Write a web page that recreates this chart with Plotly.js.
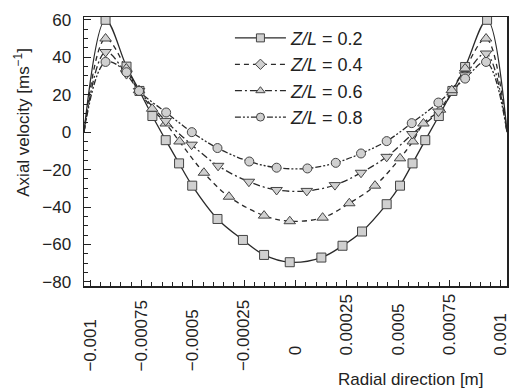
<!DOCTYPE html>
<html><head><meta charset="utf-8">
<script src="https://cdn.plot.ly/plotly-3.0.1.min.js"></script>
<style>html,body{margin:0;padding:0;background:#fff}#chart{width:511px;height:389px}</style>
</head><body><div id="chart"></div>
<script>
// ---- data ----
const seriesNames = ['<i>Z/L</i> = 0.2', '<i>Z/L</i> = 0.4', '<i>Z/L</i> = 0.6', '<i>Z/L</i> = 0.8'];
const wallX = [-0.00103, 0.00103];
const wallY = [0, 0];

const x02 = [-0.000925,-0.000823,-0.00076,-0.000697,-0.000632,-0.000567,-0.000503,-0.00038,-0.000256,-0.000153,-0.000028,0.000126,0.000229,0.000324,0.000444,0.000509,0.00057,0.000632,0.000698,0.000764,0.000826,0.000933];
const y02 = [60,35,22,8.6,-4.3,-16.7,-28.6,-46.4,-57.6,-65.6,-69.5,-67,-60.7,-53.1,-38.5,-28.6,-16.7,-4.3,8.6,22,34.8,60];

const x04 = [-0.000925,-0.000824,-0.000762,-0.000698,-0.000632,-0.000565,-0.000446,-0.000324,-0.000153,-0.000028,0.000132,0.000262,0.000387,0.000509,0.000571,0.000623,0.000704,0.000761,0.000826,0.000928];
const y04 = [50,34,22.4,12.5,4.6,-5,-21.7,-34.5,-44.6,-47.6,-45.7,-38,-28.6,-14,-5,4.6,12,22.4,34,50];

const x06 = [-0.000925,-0.000823,-0.000762,-0.000632,-0.000506,-0.000377,-0.000227,-0.000092,0.000055,0.000192,0.000319,0.000444,0.000569,0.000696,0.000826,0.000928];
const y06 = [42.8,31,22,6,-6.7,-18,-26.5,-30.9,-31.4,-28.3,-21.7,-13.2,-1,11,30.4,42];

const x08 = [-0.000925,-0.000823,-0.000762,-0.00063,-0.000505,-0.00038,-0.000225,-0.000092,0.000058,0.000196,0.000319,0.000444,0.000566,0.000696,0.000826,0.000928];
const y08 = [37.5,32,22,10.5,0,-8.5,-15.7,-19,-19.4,-16.4,-11.4,-4.8,4.8,15.8,28.6,37.5];

const xTickVals = [-0.001,-0.00075,-0.0005,-0.00025,0,0.00025,0.0005,0.00075,0.001];
const xTickText = ['\u22120.001','\u22120.00075','\u22120.0005','\u22120.00025','0','0.00025','0.0005','0.00075','0.001'];

// ---- styles ----
const FONT = 'Liberation Sans, Arial, sans-serif';
const INK = '#222';
const seriesX = [x02, x04, x06, x08];
const seriesY = [y02, y04, y06, y08];
const dashes = ['solid', '5px,4px', '7px,3px,2px,3px', '6px,2px,2px,2px,2px,2px'];
const plotSymbols = ['square', 'triangle-up', 'triangle-down', 'circle'];
const legendSymbols = ['square', 'diamond', 'triangle-up', 'circle'];
const sizes = [9, 10, 10, 9];

const traces = [];
for (let i = 0; i < 4; i++) {
  traces.push({
    x: [wallX[0], ...seriesX[i], wallX[1]],
    y: [wallY[0], ...seriesY[i], wallY[1]],
    mode: 'lines', type: 'scatter', showlegend: false, hoverinfo: 'skip',
    line: {color: '#2a2a2a', width: 1.3, dash: dashes[i], shape: 'spline', smoothing: 1},
    cliponaxis: true
  });
}
for (let i = 0; i < 4; i++) {
  traces.push({
    x: seriesX[i], y: seriesY[i],
    mode: 'markers', type: 'scatter', showlegend: false,
    marker: {symbol: plotSymbols[i], size: sizes[i], color: '#d0d0d0', line: {color: '#444', width: 1}},
    cliponaxis: true
  });
}
for (let i = 0; i < 4; i++) {
  traces.push({
    x: [null], y: [null], name: seriesNames[i],
    mode: 'lines+markers', type: 'scatter',
    line: {color: '#2a2a2a', width: 1.3, dash: dashes[i]},
    marker: {symbol: legendSymbols[i], size: 8, color: '#d0d0d0', line: {color: '#444', width: 1}}
  });
}

const annotations = [];
xTickVals.forEach((v, i) => {
  const neg = xTickText[i].startsWith('\u2212');
  annotations.push({
    x: v, xref: 'x', y: neg ? -0.325 : -0.265, yref: 'paper',
    text: xTickText[i], textangle: -90, showarrow: false,
    xanchor: 'center', yanchor: 'bottom',
    font: {family: FONT, size: 17, color: INK}
  });
});
annotations.push({
  x: -0.147, xref: 'paper', y: 0.61, yref: 'paper',
  text: 'Axial velocity [ms<sup>\u22121</sup>]', textangle: -90, showarrow: false,
  xanchor: 'center', yanchor: 'middle',
  font: {family: FONT, size: 17, color: INK}
});
annotations.push({
  x: 0.773, xref: 'paper', y: -0.349, yref: 'paper',
  text: 'Radial direction [m]', showarrow: false,
  xanchor: 'center', yanchor: 'middle',
  font: {family: FONT, size: 17, color: INK}
});

const layout = {
  width: 511, height: 389,
  margin: {l: 84, r: 4, t: 17, b: 103},
  paper_bgcolor: '#fff', plot_bgcolor: '#fff',
  font: {family: FONT, size: 17, color: INK},
  showlegend: true,
  legend: {x: 0.345, y: 0.99, xanchor: 'left', yanchor: 'top', bgcolor: 'rgba(0,0,0,0)',
           font: {family: FONT, size: 18, color: INK}, itemwidth: 51},
  xaxis: {
    range: [-0.00103, 0.00103], tickmode: 'linear', tick0: 0, dtick: 0.00025,
    ticks: 'inside', ticklen: 6, tickcolor: INK, tickwidth: 1,
    showticklabels: false, showgrid: false, zeroline: false,
    showline: true, linecolor: INK, linewidth: 1.5, mirror: true,
    minor: {tickmode: 'linear', tick0: 0, dtick: 0.00005, ticks: 'inside', ticklen: 4, tickcolor: INK, showgrid: false}
  },
  yaxis: {
    range: [-82.2, 61.5], tickmode: 'linear', tick0: 0, dtick: 20,
    ticks: 'inside', ticklen: 7, tickcolor: INK, tickwidth: 1,
    tickfont: {family: FONT, size: 17, color: INK}, ticklabelstandoff: 8,
    showgrid: false, zeroline: false,
    showline: true, linecolor: INK, linewidth: 1.5, mirror: true,
    minor: {tickmode: 'linear', tick0: 0, dtick: 5, ticks: 'inside', ticklen: 4, tickcolor: INK, showgrid: false}
  },
  annotations: annotations
};

Plotly.newPlot('chart', traces, layout, {displayModeBar: false, staticPlot: true});
</script>
</body></html>
